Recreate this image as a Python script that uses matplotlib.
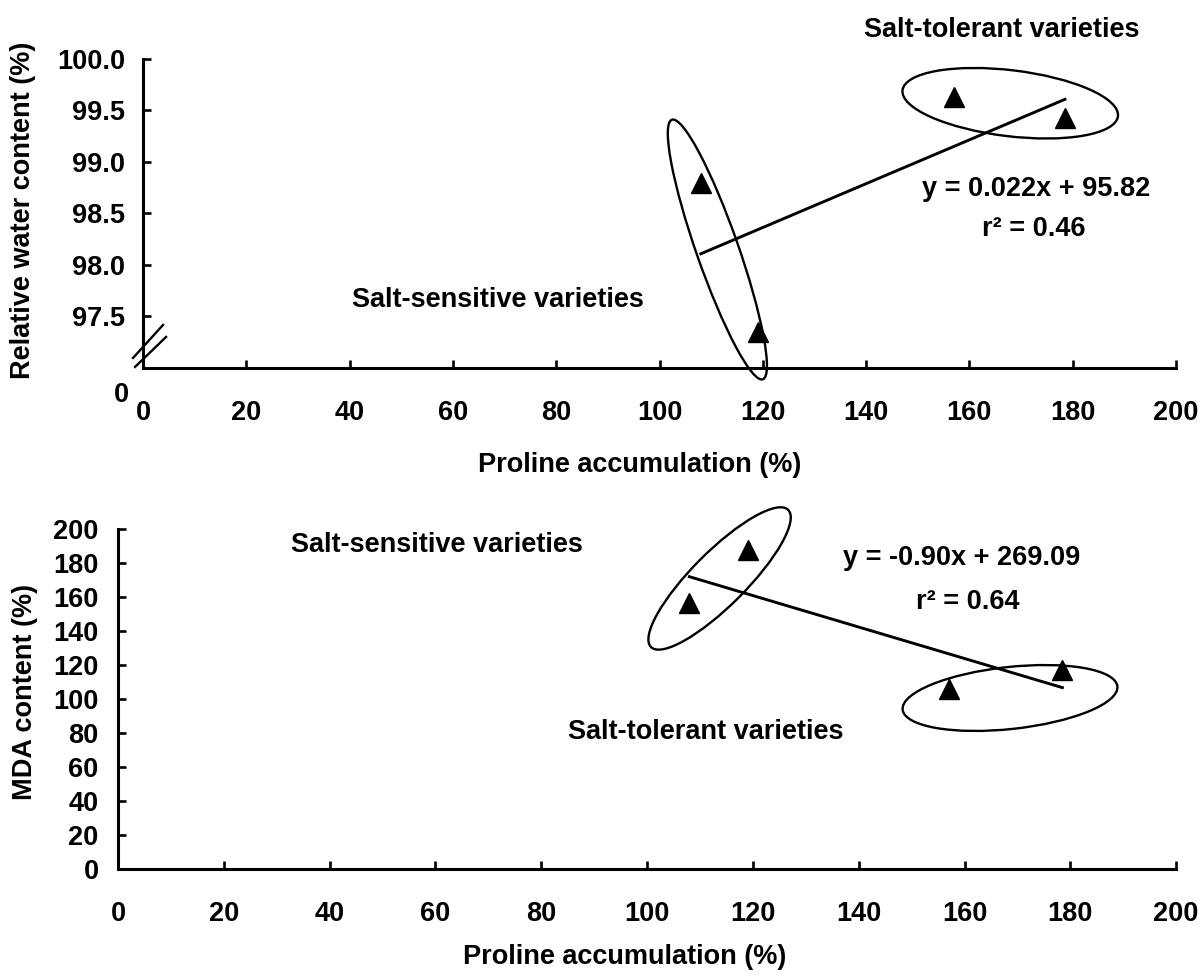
import numpy as np
import matplotlib
matplotlib.use("Agg")
import matplotlib.pyplot as plt
from matplotlib.patches import Ellipse
from matplotlib.transforms import ScaledTranslation

# ---------------- data ----------------
proline = [108, 119, 157, 178.5]           # Proline accumulation (%)
rwc = [98.80, 97.35, 99.63, 99.43]         # Relative water content (%)
mda = [156.5, 187.5, 106.0, 117.0]         # MDA content (%)

x_ticks = list(range(0, 201, 20))
rwc_ticks = [97.5, 98.0, 98.5, 99.0, 99.5, 100.0]
mda_ticks = list(range(0, 201, 20))

eq_top = "y = 0.022x + 95.82"
r2_top = "r\u00b2 = 0.46"
eq_bot = "y = -0.90x + 269.09"
r2_bot = "r\u00b2 = 0.64"

# ---------------- style ----------------
plt.rcParams['font.family'] = ['Liberation Sans', 'DejaVu Sans']
plt.rcParams['font.weight'] = 'bold'
FS = 19.5

fig = plt.figure(figsize=(12.01, 9.76), dpi=100)
ax1 = fig.add_axes([0.1191, 0.6230, 0.8601, 0.3166])
ax2 = fig.add_axes([0.0983, 0.1096, 0.8810, 0.3484])


def style(ax, pad_x, pad_y):
    for s in ['top', 'right']:
        ax.spines[s].set_visible(False)
    for s in ['left', 'bottom']:
        ax.spines[s].set_linewidth(2.2)
    ax.tick_params(axis='both', direction='in', length=6, width=1.9,
                   labelsize=FS)
    ax.tick_params(axis='x', pad=pad_x)
    ax.tick_params(axis='y', pad=pad_y)
    for lab in ax.get_xticklabels() + ax.get_yticklabels():
        lab.set_fontweight('bold')


def ellipse(ax, xc, yc, w_in, h_in, angle):
    trans = fig.dpi_scale_trans + ScaledTranslation(xc, yc, ax.transData)
    e = Ellipse((0, 0), w_in, h_in, angle=angle, transform=trans,
                fill=False, edgecolor='black', linewidth=1.7, clip_on=False)
    ax.add_patch(e)


def fit_line(ax, x, y):
    k, b = np.polyfit(x, y, 1)
    xs = np.array([min(x), max(x)])
    ax.plot(xs, k * xs + b, color='black', linewidth=2.1, zorder=3)


# ---------------- top panel ----------------
ax1.set_xlim(0, 200)
ax1.set_ylim(97.0, 100.0)
ax1.set_xticks(x_ticks)
ax1.set_yticks(rwc_ticks)
ax1.set_yticklabels([f"{v:.1f}" for v in rwc_ticks])
style(ax1, pad_x=23, pad_y=13)
ax1.plot(proline, rwc, linestyle='none', marker='^', markersize=14,
         color='black', zorder=4, clip_on=False)
fit_line(ax1, proline, rwc)
ellipse(ax1, 111.2, 98.15, 2.75, 0.42, -70.7)
ellipse(ax1, 167.9, 99.57, 2.17, 0.66, -6.9)

ax1.set_ylabel("Relative water content (%)", fontsize=FS, fontweight='bold')
ax1.yaxis.set_label_coords(-0.116, 0.51)
ax1.yaxis.label.set_va('center')
ax1.set_xlabel("Proline accumulation (%)", fontsize=FS, fontweight='bold')
ax1.xaxis.set_label_coords(0.481, -0.314)
ax1.xaxis.label.set_va('center')

ax1.text(166.3, 100.28, "Salt-tolerant varieties", fontsize=FS,
         fontweight='bold', ha='center', va='center', clip_on=False)
ax1.text(68.7, 97.66, "Salt-sensitive varieties", fontsize=FS,
         fontweight='bold', ha='center', va='center')
ax1.text(173.0, 98.74, eq_top, fontsize=FS, fontweight='bold',
         ha='center', va='center')
ax1.text(172.5, 98.35, r2_top, fontsize=FS, fontweight='bold',
         ha='center', va='center')

# axis break marks and the "0" below the break
brk = fig.dpi_scale_trans + ScaledTranslation(0, 0, ax1.transAxes)
ax1.plot([-0.10, 0.20], [0.10, 0.43], color='black', lw=1.7,
         transform=brk, clip_on=False)
ax1.plot([-0.08, 0.23], [0.01, 0.31], color='black', lw=1.7,
         transform=brk, clip_on=False)
ax1.text(-0.22, -0.27, "0", fontsize=FS, fontweight='bold', ha='center',
         va='center', transform=brk)

# ---------------- bottom panel ----------------
ax2.set_xlim(0, 200)
ax2.set_ylim(0, 200)
ax2.set_xticks(x_ticks)
ax2.set_yticks(mda_ticks)
style(ax2, pad_x=23, pad_y=14)
ax2.plot(proline, mda, linestyle='none', marker='^', markersize=14,
         color='black', zorder=4)
fit_line(ax2, proline, mda)
ellipse(ax2, 113.7, 170.9, 1.94, 0.54, 45)
ellipse(ax2, 168.6, 100.6, 2.16, 0.62, 6.2)

ax2.set_ylabel("MDA content (%)", fontsize=FS, fontweight='bold')
ax2.yaxis.set_label_coords(-0.088, 0.52)
ax2.yaxis.label.set_va('center')
ax2.set_xlabel("Proline accumulation (%)", fontsize=FS, fontweight='bold')
ax2.xaxis.set_label_coords(0.479, -0.259)
ax2.xaxis.label.set_va('center')

ax2.text(60.3, 190.6, "Salt-sensitive varieties", fontsize=FS,
         fontweight='bold', ha='center', va='center')
ax2.text(159.5, 182.9, eq_bot, fontsize=FS, fontweight='bold',
         ha='center', va='center')
ax2.text(160.7, 157.0, r2_bot, fontsize=FS, fontweight='bold',
         ha='center', va='center')
ax2.text(111.0, 80.6, "Salt-tolerant varieties", fontsize=FS,
         fontweight='bold', ha='center', va='center')

fig.savefig("out.png", dpi=100)
